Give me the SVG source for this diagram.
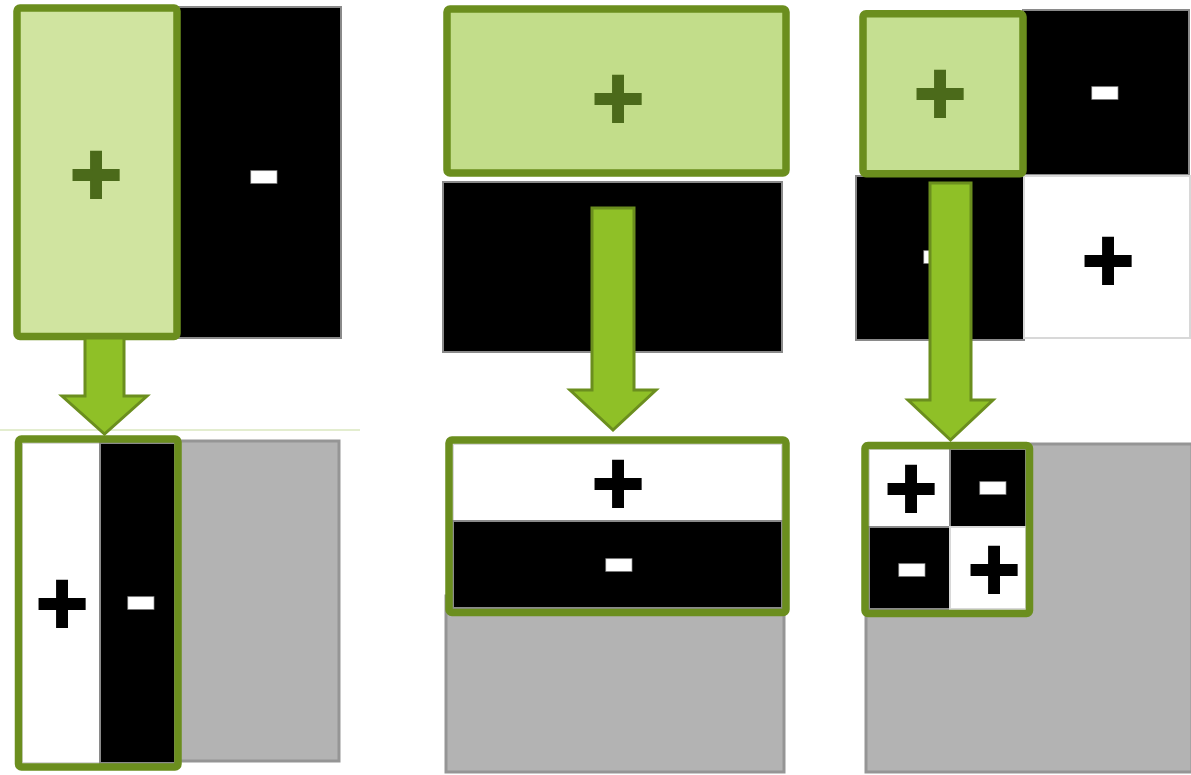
<svg xmlns="http://www.w3.org/2000/svg" width="1191" height="775" viewBox="0 0 1191 775">
<defs>
<style>
.frame{fill:none;stroke:#6b8e1e;stroke-width:7.5;stroke-linejoin:round}
.sel1{fill:#d0e4a0;stroke:#6b8e1e;stroke-width:7.5;stroke-linejoin:round}
.sel2{fill:#c2dd8a;stroke:#6b8e1e;stroke-width:7.5;stroke-linejoin:round}
.sel3{fill:#c5df91;stroke:#6b8e1e;stroke-width:7.5;stroke-linejoin:round}
.blk{fill:#000;stroke:#8a8a8a;stroke-width:2}
.wht{fill:#fff;stroke:#d8d8d8;stroke-width:2}
.gry{fill:#b3b3b3;stroke:#959595;stroke-width:3}
.arrow{fill:#8fc027;stroke:#6b8e1e;stroke-width:3;stroke-linejoin:miter}
.plus{font-family:"Liberation Sans",Arial,sans-serif;font-weight:bold;font-size:90px;text-anchor:middle;fill:#000;stroke:#000;stroke-width:2}
.gplus{fill:#4b6a1a;stroke:#4b6a1a}
.minus{font-family:"Liberation Sans",Arial,sans-serif;font-weight:bold;font-size:100px;text-anchor:middle;fill:#fff;stroke:#9a9a9a;stroke-width:1.5;paint-order:stroke}
</style>
</defs>
<rect width="1191" height="775" fill="#fff"/>
<line x1="0" y1="430" x2="360" y2="430" stroke="#e3edcf" stroke-width="2"/>

<!-- Panel 1 -->
<g id="p1-top">
<rect class="blk" x="176" y="7" width="165" height="331"/>
<text class="minus" x="264" y="203">-</text>
<rect class="sel1" x="17" y="8" width="160" height="328.5" rx="3"/>
<text class="plus gplus" x="96" y="205">+</text>
</g>
<g id="p1-bottom">
<rect class="gry" x="176" y="441" width="163" height="320"/>
<rect class="wht" x="22" y="443" width="78" height="320"/>
<rect class="blk" x="100" y="443" width="75" height="320"/>
<text class="plus" x="62" y="634">+</text>
<text class="minus" x="141" y="629">-</text>
<rect class="frame" x="18.5" y="439" width="159.5" height="328" rx="3"/>
</g>

<!-- Panel 2 -->
<g id="p2-top">
<rect class="blk" x="443" y="182" width="339" height="170"/>
<rect class="sel2" x="447" y="9" width="339" height="164" rx="3"/>
<text class="plus gplus" x="618" y="129">+</text>
</g>
<g id="p2-bottom">
<rect class="gry" x="446" y="596" width="338" height="176"/>
<rect class="wht" x="453" y="444" width="329" height="77"/>
<rect class="blk" x="453" y="521" width="329" height="87"/>
<text class="plus" x="618" y="514">+</text>
<text class="minus" x="619" y="591">-</text>
<rect class="frame" x="449" y="440" width="337" height="172.5" rx="3"/>
</g>

<!-- Panel 3 -->
<g id="p3-top">
<rect class="blk" x="1023" y="10" width="166" height="165"/>
<rect class="blk" x="856" y="176" width="168" height="164"/>
<rect class="wht" x="1024" y="176" width="166" height="162"/>
<text class="minus" x="1105" y="119">-</text>
<text class="minus" x="937" y="283">-</text>
<text class="plus" x="1108" y="291">+</text>
<rect class="sel3" x="863" y="13.7" width="160" height="160" rx="3"/>
<text class="plus gplus" x="940" y="124">+</text>
</g>
<g id="p3-bottom">
<rect class="gry" x="866" y="444" width="326" height="328"/>
<rect class="wht" x="869" y="449" width="81" height="78"/>
<rect class="blk" x="950" y="449" width="76" height="78"/>
<rect class="blk" x="869" y="527" width="81" height="82"/>
<rect class="wht" x="950" y="527" width="76" height="82"/>
<text class="plus" x="911" y="519">+</text>
<text class="minus" x="993" y="514">-</text>
<text class="minus" x="912" y="596">-</text>
<text class="plus" x="994" y="600">+</text>
<rect class="frame" x="865" y="445.5" width="164.5" height="168" rx="3"/>
</g>

<g id="connectors">
<polygon class="arrow" points="85,338 124,338 124,396 147,396 104.5,434 62,396 85,396"/>
<polygon class="arrow" points="592,208 634,208 634,390 656,390 613,430 570,390 592,390"/>
<polygon class="arrow" points="930,183 971,183 971,400 993,400 950.5,440 908,400 930,400"/>
</g>
</svg>
